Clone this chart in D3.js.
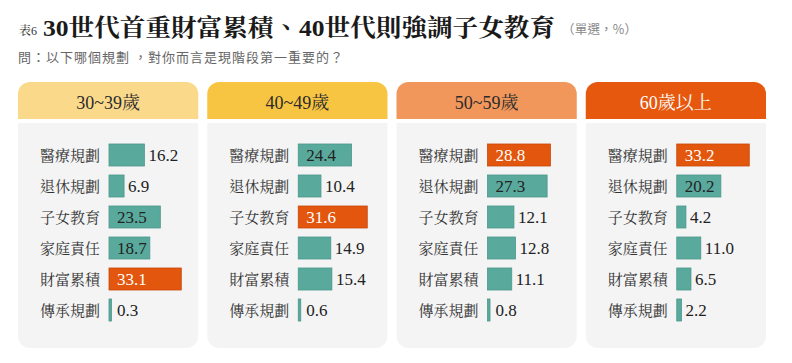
<!DOCTYPE html>
<html>
<head>
<meta charset="utf-8">
<script src="https://cdn.jsdelivr.net/npm/d3@7"></script>
<style>
  body { margin: 0; background: #fff; }
  svg { display: block; }
</style>
</head>
<body>
<div id="chart"></div>
<script>
// Data
var categories = ["醫療規劃", "退休規劃", "子女教育", "家庭責任", "財富累積", "傳承規劃"];
var groups = ["30~39歲", "40~49歲", "50~59歲", "60歲以上"];
var v30 = [16.2, 6.9, 23.5, 18.7, 33.1, 0.3];
var v40 = [24.4, 10.4, 31.6, 14.9, 15.4, 0.6];
var v50 = [28.8, 27.3, 12.1, 12.8, 11.1, 0.8];
var v60 = [33.2, 20.2, 4.2, 11.0, 6.5, 2.2];
var series = [v30, v40, v50, v60];

var headerColors = ["#fbd98a", "#f7c542", "#f2975c", "#e6580e"];
var headerText = ["#2b2b2b", "#2b2b2b", "#2b2b2b", "#ffffff"];

var width = 792, height = 363;
var serif = "'Liberation Serif', 'Noto Serif CJK TC', 'Noto Sans CJK TC', serif";
var sans = "'Noto Sans CJK TC', 'Noto Sans', sans-serif";

var svg = d3.select("#chart")
  .append("svg")
    .attr("width", width)
    .attr("height", height);

// Title
svg.append("text")
  .attr("x", 19).attr("y", 35)
  .style("font-family", serif)
  .style("font-size", "12px")
  .attr("fill", "#333")
  .text("表6");

svg.append("text")
  .attr("x", 43).attr("y", 36)
  .style("font-family", serif)
  .style("font-size", "24px")
  .style("font-weight", "bold")
  .attr("fill", "#1a1a1a")
  .attr("textLength", 512)
  .attr("lengthAdjust", "spacingAndGlyphs")
  .text("30世代首重財富累積、40世代則強調子女教育");

svg.append("text")
  .attr("x", 562).attr("y", 34)
  .style("font-family", sans)
  .style("font-size", "12.5px")
  .attr("fill", "#888")
  .attr("textLength", 75)
  .text("（單選，%）");

svg.append("text")
  .attr("x", 18).attr("y", 62)
  .style("font-family", sans)
  .style("font-size", "13px")
  .attr("fill", "#666")
  .attr("textLength", 325)
  .text("問：以下哪個規劃 ，對你而言是現階段第一重要的？");

// Scales
var panelX = d3.scaleBand()
  .domain(groups)
  .range([18, 766])
  .paddingInner(9 / 189);
var panelW = panelX.bandwidth();

var x = d3.scaleLinear().domain([0, 33.2]).range([0, 72.5]);
var y = d3.scaleBand()
  .domain(categories)
  .range([139.5, 325.5])
  .paddingInner(0.29)
  .paddingOuter(0.145);

function topRounded(x0, y0, w, h, r) {
  var p = d3.path();
  p.moveTo(x0, y0 + h);
  p.lineTo(x0, y0 + r);
  p.arcTo(x0, y0, x0 + r, y0, r);
  p.lineTo(x0 + w - r, y0);
  p.arcTo(x0 + w, y0, x0 + w, y0 + r, r);
  p.lineTo(x0 + w, y0 + h);
  p.closePath();
  return p.toString();
}
function bottomRounded(x0, y0, w, h, r) {
  var p = d3.path();
  p.moveTo(x0, y0);
  p.lineTo(x0 + w, y0);
  p.lineTo(x0 + w, y0 + h - r);
  p.arcTo(x0 + w, y0 + h, x0 + w - r, y0 + h, r);
  p.lineTo(x0 + r, y0 + h);
  p.arcTo(x0, y0 + h, x0, y0 + h - r, r);
  p.closePath();
  return p.toString();
}

groups.forEach(function(g, i) {
  var px = panelX(g);
  var values = series[i];
  var maxV = d3.max(values);
  var panel = svg.append("g").attr("transform", "translate(" + px + ",0)");

  panel.append("path")
    .attr("d", topRounded(0, 82, panelW, 37, 12))
    .attr("fill", headerColors[i]);
  panel.append("text")
    .attr("x", panelW / 2).attr("y", 109)
    .attr("text-anchor", "middle")
    .style("font-family", serif)
    .style("font-size", "18px")
    .attr("fill", headerText[i])
    .text(g);

  panel.append("path")
    .attr("d", bottomRounded(0, 123, panelW, 225, 12))
    .attr("fill", "#f4f4f4");

  var rows = panel.selectAll(".row")
    .data(categories.map(function(c, k) { return {cat: c, v: values[k]}; }))
    .enter().append("g")
      .attr("class", "row");

  rows.append("text")
    .attr("x", 82)
    .attr("y", function(d) { return y(d.cat) + y.bandwidth() / 2 + 5.5; })
    .attr("text-anchor", "end")
    .style("font-family", serif)
    .style("font-size", "15px")
    .attr("fill", "#333")
    .text(function(d) { return d.cat; });

  rows.append("rect")
    .attr("x", 91)
    .attr("y", function(d) { return y(d.cat); })
    .attr("width", function(d) { return Math.max(2.5, x(d.v)); })
    .attr("height", y.bandwidth())
    .attr("fill", function(d) { return d.v === maxV ? "#e2560d" : "#5aa99d"; })
    .attr("stroke", function(d) { return d.v === maxV ? "#c9480a" : "#4b978b"; })
    .attr("stroke-width", 0.8);

  rows.append("text")
    .attr("x", function(d) {
      if (d.v >= 18) return 91 + 8;
      return Math.max(91 + x(d.v) + 4, 91 + 8);
    })
    .attr("y", function(d) { return y(d.cat) + y.bandwidth() / 2 + 6; })
    .style("font-family", serif)
    .style("font-size", "17px")
    .attr("fill", function(d) { return d.v === maxV ? "#ffffff" : "#222"; })
    .text(function(d) { return d3.format(".1f")(d.v); });
});
</script>
</body>
</html>
